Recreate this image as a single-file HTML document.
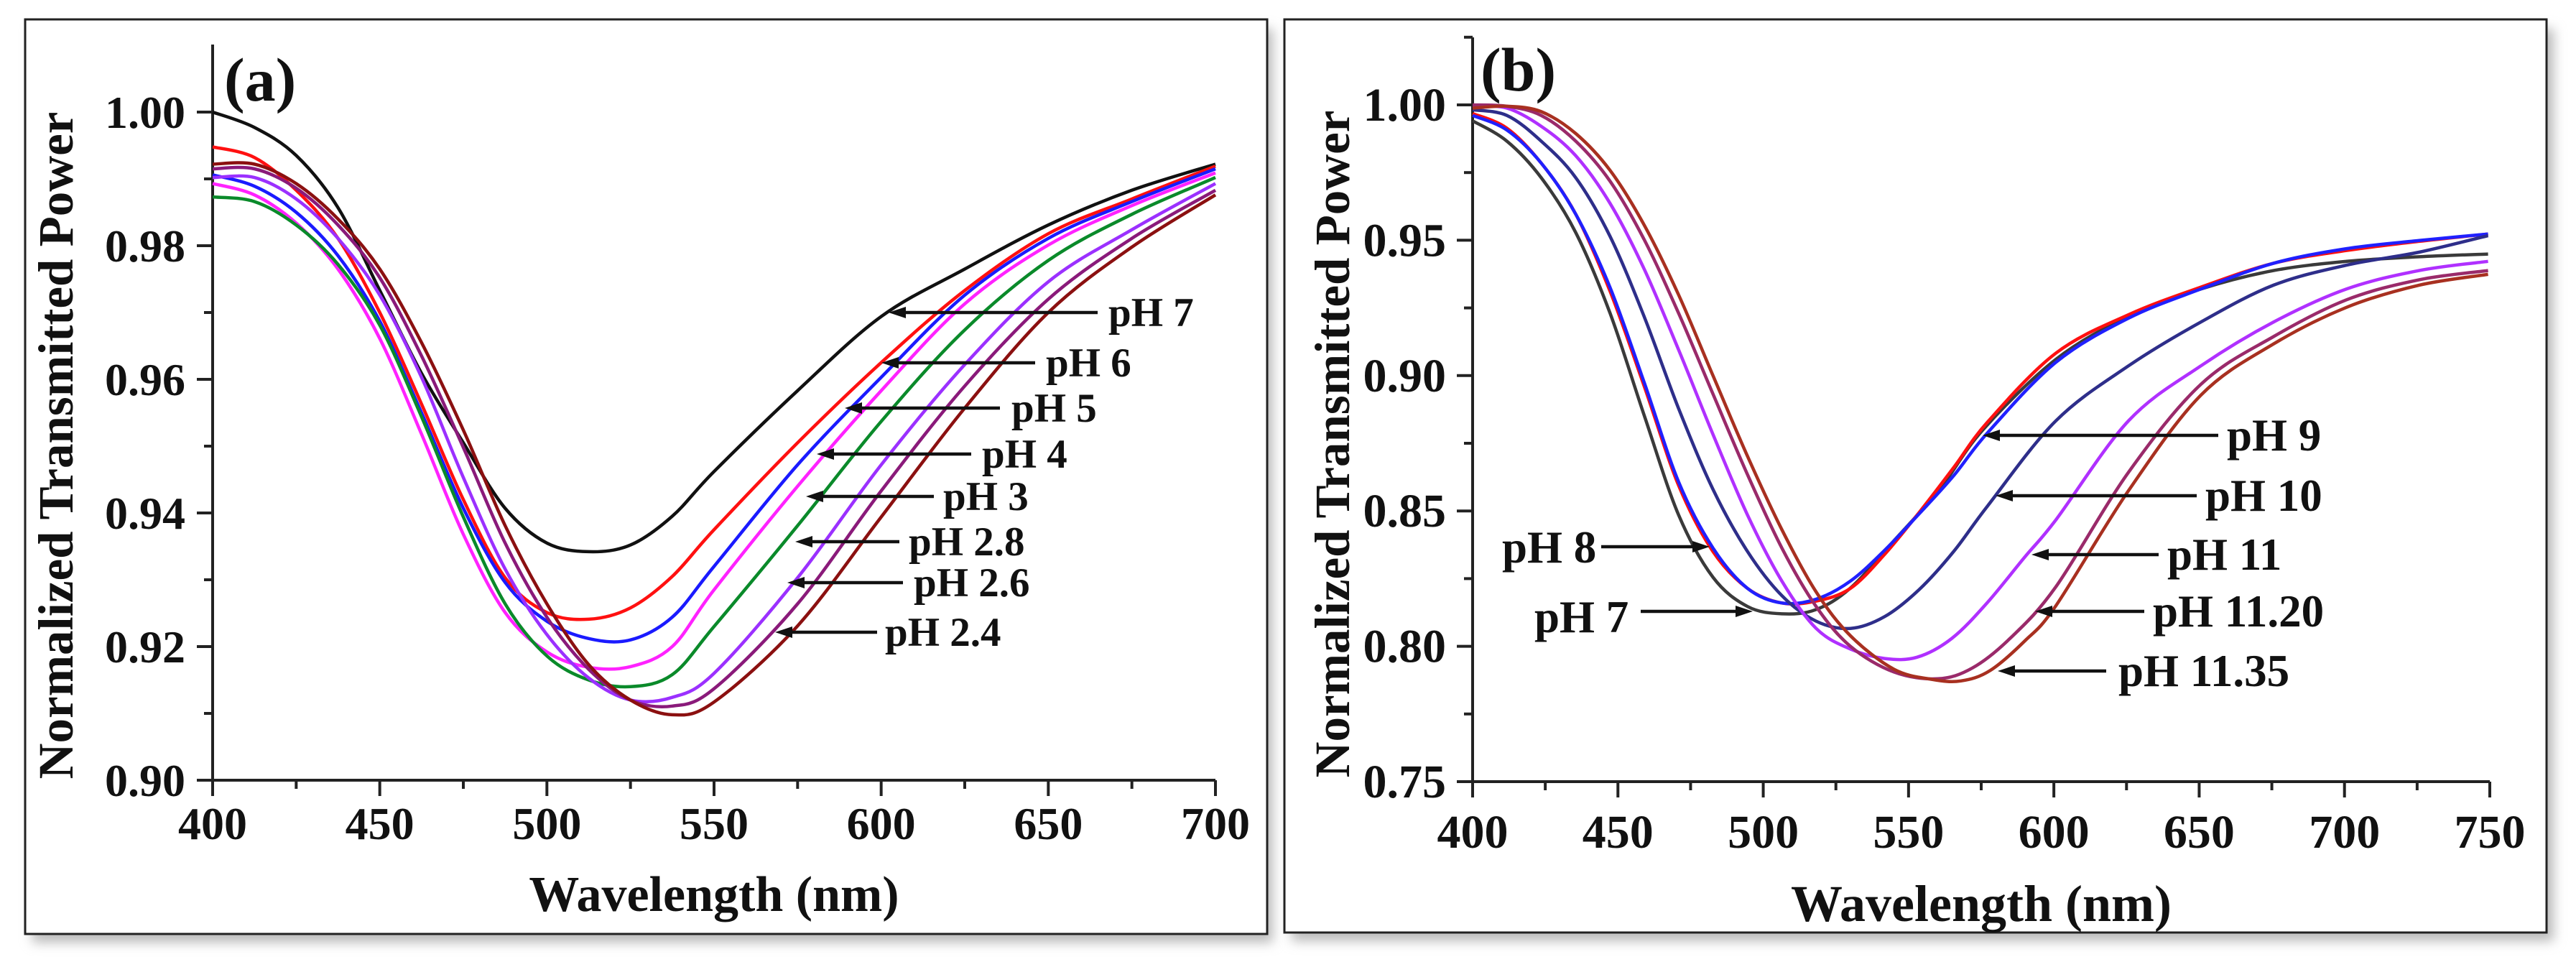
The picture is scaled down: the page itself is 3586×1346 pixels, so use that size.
<!DOCTYPE html>
<html><head><meta charset="utf-8"><style>
html,body{margin:0;padding:0;background:#fff;}
svg{display:block;}
svg text{font-family:"Liberation Serif","Times New Roman",serif;font-weight:bold;fill:#111;}
</style></head><body>
<svg id="fig" width="3586" height="1346" viewBox="0 0 3586 1346" xmlns="http://www.w3.org/2000/svg">
<defs>
<filter id="sh" x="-5%" y="-5%" width="115%" height="115%"><feGaussianBlur stdDeviation="8"/></filter>
</defs>
<rect width="3586" height="1346" fill="#fff"/>
<g>
<rect x="45" y="40" width="1727" height="1272" fill="#bbb" filter="url(#sh)"/>
<rect x="35" y="27" width="1729" height="1273" fill="#fff" stroke="#222" stroke-width="3"/>
</g>
<g>
<rect x="1798" y="40" width="1757" height="1270" fill="#bbb" filter="url(#sh)"/>
<rect x="1788" y="27" width="1757" height="1271" fill="#fff" stroke="#222" stroke-width="3"/>
</g>
<g id="layer"></g>
</svg>
<script>
// ---------- Panel (a) data ----------
const waveA = [400,412.5,425,437.5,450,462.5,475,487.5,500,512.5,525,537.5,550,575,600,625,650,675,700];
const aPH7  = [1.000,.9977,.9935,.9857,.9733,.9609,.9505,.9407,.9355,.9342,.9352,.9395,.9462,.9583,.9694,.9765,.9831,.9883,.9922];
const aPH6  = [.9948,.9932,.9883,.9811,.9700,.9563,.9420,.9303,.9251,.9241,.9258,.9305,.9375,.9505,.9625,.9733,.9818,.9870,.9919];
const aPH5  = [.9906,.9889,.9850,.9785,.9687,.9550,.9407,.9296,.9238,.9212,.9210,.9244,.9320,.9472,.9603,.9726,.9811,.9866,.9915];
const aPH4  = [.9893,.9876,.9834,.9765,.9661,.9518,.9368,.9251,.9192,.9169,.9170,.9200,.9285,.9440,.9583,.9713,.9801,.9860,.9909];
const aPH3  = [.9873,.9866,.9831,.9772,.9681,.9544,.9394,.9264,.9186,.9150,.9140,.9158,.9230,.9381,.9537,.9674,.9778,.9847,.9902];
const aPH28 = [.9902,.9902,.9870,.9811,.9726,.9603,.9453,.9316,.9218,.9153,.9120,.9124,.9160,.9303,.9472,.9622,.9746,.9824,.9893];
const aPH26 = [.9915,.9915,.9886,.9831,.9752,.9635,.9498,.9355,.9244,.9166,.9120,.9111,.9137,.9264,.9433,.9590,.9720,.9811,.9883];
const aPH24 = [.9922,.9922,.9893,.9840,.9765,.9655,.9524,.9381,.9264,.9173,.9120,.9098,.9117,.9231,.9394,.9557,.9700,.9798,.9876];
const aTicksX = [400,450,500,550,600,650,700];
const aTicksY = [0.90,0.92,0.94,0.96,0.98,1.00];
const aTickLabelsY = ["0.90","0.92","0.94","0.96","0.98","1.00"];

// ---------- Panel (b) data ----------
const bWave7  = [400,411.8,423.6,435.5,447.3,459.1,470.9,482.7,494.6,506.4,518,530,545,560.7,575.6,600.7,625.7,650.6,675.6,700.7,725.7,749.4];
const bPH7    = [.9941,.9866,.9731,.9528,.9230,.8851,.8485,.8255,.8147,.8120,.8135,.8215,.8390,.8580,.8800,.9060,.9219,.9320,.9388,.9422,.9439,.9449];
const bWave8  = [400,411.8,423.6,435.5,447.3,459.1,470.9,482.7,494.6,506.4,518.2,530,541.8,553.7,565.5,577.3,600.7,625.7,650.6,675.6,700.7,725.7,749.4];
const bPH8    = [.9968,.9914,.9785,.9596,.9311,.8959,.8594,.8350,.8214,.8160,.8167,.8214,.8340,.8495,.8660,.8830,.9083,.9225,.9327,.9415,.9462,.9496,.9523];
const bWave9  = [400,411.8,423.6,435.5,447.3,459.1,470.9,482.7,494.6,506.4,518.2,530,541.8,553.7,565.5,577.3,600.7,625.7,650.6,675.6,700.7,725.7,749.4];
const bPH9    = [.9961,.9907,.9785,.9596,.9325,.8973,.8607,.8363,.8214,.8160,.8174,.8241,.8355,.8490,.8630,.8790,.9049,.9212,.9320,.9415,.9469,.9499,.9523];
const bWave10 = [400,411.8,423.6,435.5,447.3,459.1,470.9,482.7,494.6,506.4,518.2,530,541.8,553.7,565.5,577.3,600.7,625.7,650.6,675.6,700.7,725.7,749.4];
const bPH10   = [.9982,.9961,.9866,.9731,.9514,.9216,.8878,.8580,.8350,.8187,.8093,.8066,.8110,.8210,.8350,.8520,.8833,.9036,.9198,.9334,.9408,.9456,.9517];
const bWave11 = [400,411.8,423.6,435.5,447.3,459.1,470.9,482.7,494.6,506.4,518.2,530,541.8,553,565,577,590,600.7,625.7,650.6,675.6,700.7,725.7,749.4];
const bPH11   = [.9995,.9988,.9921,.9812,.9636,.9392,.9095,.8783,.8485,.8241,.8066,.7990,.7955,.7960,.8030,.8160,.8330,.8467,.8833,.9036,.9198,.9320,.9388,.9422];
const bWave1120 = [400,411.8,423.6,435.5,447.3,459.1,470.9,482.7,494.6,506.4,518.2,530,545,560,572,585,600.7,625.7,650.6,675.6,700.7,725.7,749.4];
const bPH1120   = [1.000,.9995,.9961,.9866,.9718,.9501,.9230,.8932,.8634,.8363,.8147,.8000,.7905,.7880,.7920,.8030,.8220,.8643,.8968,.9144,.9280,.9354,.9388];
const bWave1135 = [400,411.8,423.6,435.5,447.3,459.1,470.9,482.7,494.6,506.4,518.2,530,545,558,568,578,590,600.7,625.7,650.6,675.6,700.7,725.7,749.4];
const bPH1135   = [.9988,.9995,.9975,.9894,.9758,.9555,.9298,.9000,.8702,.8431,.8201,.8039,.7915,.7878,.7872,.7910,.8020,.8150,.8575,.8928,.9117,.9252,.9334,.9374];
const bTicksX = [400,450,500,550,600,650,700,750];
const bTicksY = [0.75,0.80,0.85,0.90,0.95,1.00];
const bTickLabelsY = ["0.75","0.80","0.85","0.90","0.95","1.00"];

// ---------- axes ----------
function xA(w){return 296+(w-400)*(1692-296)/300;}
function yA(v){return 156+(1-v)*9300;}
function xB(w){return 2050+(w-400)*(3466-2050)/350;}
function yB(v){return 146+(1-v)*3768;}

const NS="http://www.w3.org/2000/svg";
const layer=document.getElementById('layer');
function mk(tag,attrs,parent){const e=document.createElementNS(NS,tag);for(const k in attrs)e.setAttribute(k,attrs[k]);(parent||layer).appendChild(e);return e;}

function smoothPath(pts){
  let d="M"+pts[0][0].toFixed(1)+","+pts[0][1].toFixed(1);
  for(let i=0;i<pts.length-1;i++){
    const p0=pts[Math.max(0,i-1)],p1=pts[i],p2=pts[i+1],p3=pts[Math.min(pts.length-1,i+2)];
    const c1x=p1[0]+(p2[0]-p0[0])/6,c1y=p1[1]+(p2[1]-p0[1])/6;
    const c2x=p2[0]-(p3[0]-p1[0])/6,c2y=p2[1]-(p3[1]-p1[1])/6;
    d+=" C"+c1x.toFixed(1)+","+c1y.toFixed(1)+" "+c2x.toFixed(1)+","+c2y.toFixed(1)+" "+p2[0].toFixed(1)+","+p2[1].toFixed(1);
  }
  return d;
}
function drawSeries(name,wl,vals,fx,fy,color){
  const pts=wl.map((w,i)=>[fx(w),fy(vals[i])]);
  const p=mk('path',{d:smoothPath(pts),fill:'none',stroke:color,'stroke-width':4.5,'stroke-linejoin':'round'});
  
  
}
function txt(name,s,x,y,size,anchor,extra){
  const t=mk('text',Object.assign({x:x,y:y,'font-size':size,'text-anchor':anchor||'start','font-family':'Liberation Serif, Times New Roman, serif','font-weight':'bold'},extra||{}));
  t.textContent=s;
  
  
  return t;
}
function arrow(name,x1,y,x2){
  const g=mk('g',{});
  
  
  mk('line',{x1:x2,y1:y,x2:x1+14,y2:y,stroke:'#111','stroke-width':4.5},g);
  mk('polygon',{points:(x1)+","+y+" "+(x1+24)+","+(y-8)+" "+(x1+24)+","+(y+8),fill:'#111'},g);
}
function arrowR(name,x1,y,x2){
  const g=mk('g',{});
  
  
  mk('line',{x1:x1,y1:y,x2:x2-14,y2:y,stroke:'#111','stroke-width':4.5},g);
  mk('polygon',{points:(x2)+","+y+" "+(x2-24)+","+(y-8)+" "+(x2-24)+","+(y+8),fill:'#111'},g);
}

// ---------- Panel (a) axes ----------
(function(){
  const ax=mk('g',{});
  
  
  mk('line',{x1:296,y1:62,x2:296,y2:yA(0.90),stroke:'#222','stroke-width':4},ax);
  mk('line',{x1:296,y1:yA(0.90),x2:1692,y2:yA(0.90),stroke:'#222','stroke-width':4},ax);
  for(let k=0;k<=10;k++){
    const v=0.90+k*0.01;const major=k%2===0;
    mk('line',{x1:296-(major?22:12),y1:yA(v),x2:296,y2:yA(v),stroke:'#222','stroke-width':4},ax);
  }
  for(let w=400;w<=700;w+=25){
    const major=w%50===0;
    mk('line',{x1:xA(w),y1:yA(0.90),x2:xA(w),y2:yA(0.90)+(major?22:12),stroke:'#222','stroke-width':4},ax);
  }
  aTicksY.forEach((v,i)=>txt('y-tick-label-a',aTickLabelsY[i],258,yA(v)+22,64,'end'));
  aTicksX.forEach(w=>txt('x-tick-label-a',String(w),xA(w),1168,64,'middle'));
  txt('x-axis-title-a','Wavelength (nm)',994,1268,70,'middle');
  txt('y-axis-title-a','Normalized Transmitted Power',0,0,69,'middle',{transform:'translate(101,620) rotate(-90)'});
  txt('panel-a-label','(a)',312,140,86,'start');
})();
drawSeries('series-a-ph7',waveA,aPH7,xA,yA,'#111111');
drawSeries('series-a-ph6',waveA,aPH6,xA,yA,'#ff1010');
drawSeries('series-a-ph5',waveA,aPH5,xA,yA,'#1a1aff');
drawSeries('series-a-ph4',waveA,aPH4,xA,yA,'#ff22ff');
drawSeries('series-a-ph3',waveA,aPH3,xA,yA,'#0a8a2a');
drawSeries('series-a-ph2-8',waveA,aPH28,xA,yA,'#9b30ff');
drawSeries('series-a-ph2-6',waveA,aPH26,xA,yA,'#8a1a7a');
drawSeries('series-a-ph2-4',waveA,aPH24,xA,yA,'#8b1010');

const annA=[["pH 7",1237,435,1528,1543],["pH 6",1227,505,1441,1456],["pH 5",1176,568,1392,1408],["pH 4",1137,632,1352,1367],["pH 3",1122,691,1300,1313],["pH 2.8",1107,754,1252,1265],["pH 2.6",1096,811,1257,1272],["pH 2.4",1079,880,1221,1232]];
annA.forEach(a=>{arrow('arrow-a-'+a[0].replace(/\W+/g,'-'),a[1],a[2],a[3]);txt('label-a-'+a[0].replace(/\W+/g,'-'),a[0],a[4],a[2]+19,57,'start');});

// ---------- Panel (b) axes ----------
(function(){
  const ax=mk('g',{});
  
  
  mk('line',{x1:2050,y1:52,x2:2050,y2:yB(0.75),stroke:'#222','stroke-width':4},ax);
  mk('line',{x1:2050,y1:yB(0.75),x2:3466,y2:yB(0.75),stroke:'#222','stroke-width':4},ax);
  for(let k=0;k<=11;k++){
    const v=0.75+k*0.025;const major=k%2===0;
    mk('line',{x1:2050-(major?22:12),y1:yB(v),x2:2050,y2:yB(v),stroke:'#222','stroke-width':4},ax);
  }
  for(let w=400;w<=750;w+=25){
    const major=w%50===0;
    mk('line',{x1:xB(w),y1:yB(0.75),x2:xB(w),y2:yB(0.75)+(major?22:12),stroke:'#222','stroke-width':4},ax);
  }
  bTicksY.forEach((v,i)=>txt('y-tick-label-b',bTickLabelsY[i],2013,yB(v)+22,66,'end'));
  bTicksX.forEach(w=>txt('x-tick-label-b',String(w),xB(w),1180,66,'middle'));
  txt('x-axis-title-b','Wavelength (nm)',2758,1282,72,'middle');
  txt('y-axis-title-b','Normalized Transmitted Power',0,0,69,'middle',{transform:'translate(1878,618) rotate(-90)'});
  txt('panel-b-label','(b)',2061,126,86,'start');
})();
drawSeries('series-b-ph7',bWave7,bPH7,xB,yB,'#3a3a3a');
drawSeries('series-b-ph8',bWave8,bPH8,xB,yB,'#ff1010');
drawSeries('series-b-ph9',bWave9,bPH9,xB,yB,'#2020ff');
drawSeries('series-b-ph10',bWave10,bPH10,xB,yB,'#2e2e8a');
drawSeries('series-b-ph11',bWave11,bPH11,xB,yB,'#b030ff');
drawSeries('series-b-ph11-20',bWave1120,bPH1120,xB,yB,'#9a2a6a');
drawSeries('series-b-ph11-35',bWave1135,bPH1135,xB,yB,'#a83020');

arrowR('arrow-b-ph8',2229,761,2380);
txt('label-b-ph8','pH 8',2091,783,63,'start');
arrowR('arrow-b-ph7',2284,851,2440);
txt('label-b-ph7','pH 7',2136,880,63,'start');
const annB=[["pH 9",2760,606,3088,3100],["pH 10",2778,690,3058,3070],["pH 11",2828,772,3005,3017],["pH 11.20",2833,851,2985,2997],["pH 11.35",2781,934,2932,2949]];
annB.forEach(a=>{arrow('arrow-b-'+a[0].replace(/\W+/g,'-'),a[1],a[2],a[3]);txt('label-b-'+a[0].replace(/\W+/g,'-'),a[0],a[4],a[2]+21,63,'start');});
</script>
</body></html>
